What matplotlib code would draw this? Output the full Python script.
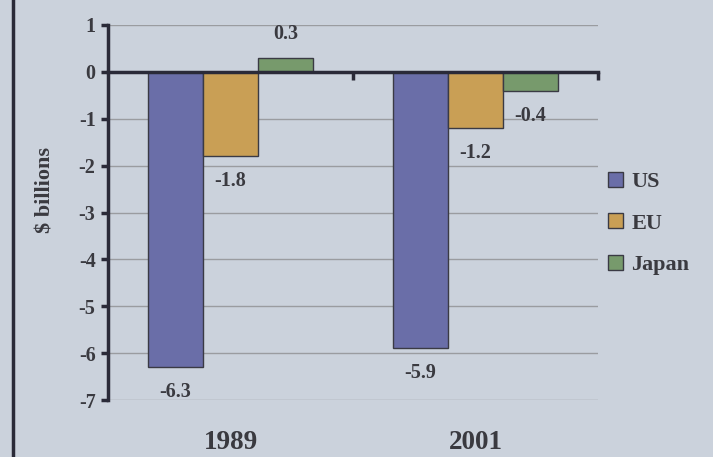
import matplotlib
matplotlib.use('Agg')
import matplotlib.pyplot as plt
import numpy as np
from matplotlib.lines import Line2D

# data
years = ['1989', '2001']
us = [-6.3, -5.9]
eu = [-1.8, -1.2]
japan = [0.3, -0.4]
series_names = ['US', 'EU', 'Japan']
yticks = [1, 0, -1, -2, -3, -4, -5, -6, -7]

plt.rcParams['font.family'] = ['Liberation Serif', 'DejaVu Serif']
plt.rcParams['font.weight'] = 'bold'

bg = '#cbd2dc'
txt = '#3a3a40'
cols = ['#6a6ea8', '#c99f55', '#779a6c']
edge = '#3a3a44'

fig = plt.figure(figsize=(7.13, 4.57), dpi=100)
fig.patch.set_facecolor(bg)
ax = fig.add_axes([108/713, 1 - 400/457, (598 - 108)/713, 375/457])
ax.set_facecolor(bg)

x = np.arange(len(years))
w = 0.224
for k, (vals, name) in enumerate(zip([us, eu, japan], series_names)):
    pos = x + (k - 1) * w
    bars = ax.bar(pos, vals, w, color=cols[k], edgecolor=edge, linewidth=1.0,
                  label=name, zorder=3)
    for b, v in zip(bars, vals):
        off = 17 if v > 0 else -18
        ax.annotate('%.1f' % v, (b.get_x() + b.get_width()/2, v),
                    xytext=(0, off), textcoords='offset points',
                    ha='center', va='center', fontsize=14.5, color=txt,
                    fontweight='bold')

ax.set_ylim(-7, 1)
ax.set_xlim(-0.5, 1.5)
ax.set_yticks(yticks)
ax.set_yticklabels([str(t) for t in yticks])
ax.yaxis.grid(True, color='#9a9ca0', linewidth=1.0, zorder=0)
ax.tick_params(axis='y', direction='out', length=5, width=2.5, color='#2a2a38',
               labelsize=14.5, labelcolor=txt, pad=4)

for s in ['top', 'right']:
    ax.spines[s].set_visible(False)
ax.spines['left'].set_linewidth(2.5)
ax.spines['left'].set_color('#2a2a38')
ax.spines['bottom'].set_position(('data', 0))
ax.spines['bottom'].set_linewidth(2.5)
ax.spines['bottom'].set_color('#2a2a38')
ax.spines['bottom'].set_zorder(4)
ax.set_xticks([0.5, 1.5])
ax.set_xticklabels(['', ''])
ax.tick_params(axis='x', direction='out', length=6, width=2.5, color='#2a2a38')

for i, yr in enumerate(years):
    ax.text(i, -0.113, yr, transform=ax.get_xaxis_transform(), ha='center',
            va='center', fontsize=19.5, color=txt, fontweight='bold')

fig.text(45/713, 1 - 190/457, '$ billions', rotation=90, ha='center',
         va='center', fontsize=16, color=txt, fontweight='bold')

leg = ax.legend(loc='upper left', bbox_to_anchor=(597/713, 1 - 161/457),
                bbox_transform=fig.transFigure, frameon=False, fontsize=16,
                handlelength=0.65, handleheight=0.65, handletextpad=0.4,
                labelspacing=0.95, borderpad=0)
for t in leg.get_texts():
    t.set_color(txt)

fig.add_artist(Line2D([13/713, 13/713], [0, 1], transform=fig.transFigure,
                      color='#2a2a38', linewidth=2.5))

fig.savefig('out.png', dpi=100, facecolor=bg)
